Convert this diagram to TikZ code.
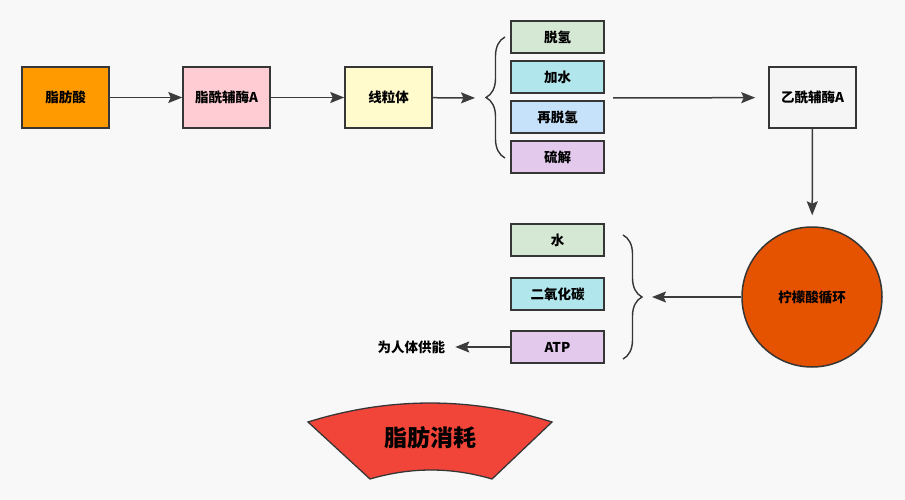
\documentclass[tikz,border=0pt]{standalone}
\usepackage{fontspec}
\setmainfont{Noto Sans CJK SC}
\usepackage{xcolor}
\usetikzlibrary{arrows.meta,positioning,decorations.pathreplacing}

\definecolor{bgcol}{HTML}{F8F8F8}
\definecolor{edgecol}{HTML}{363636}
\definecolor{arrowcol}{HTML}{3C3C3C}
\definecolor{orangefill}{HTML}{FF9A00}
\definecolor{pinkfill}{HTML}{FFCCD3}
\definecolor{yellowfill}{HTML}{FFFBCC}
\definecolor{greenfill}{HTML}{D5E8D4}
\definecolor{cyanfill}{HTML}{B0E6EC}
\definecolor{bluefill}{HTML}{C6E2FA}
\definecolor{purplefill}{HTML}{E3C9EC}
\definecolor{greyfill}{HTML}{F5F5F5}
\definecolor{tcafill}{HTML}{E65300}
\definecolor{fanfill}{HTML}{F2453A}

\begin{document}
\begin{tikzpicture}[x=1pt,y=-1pt,
  node distance=8pt and 74pt,
  component/.style={draw=edgecol,rectangle,line width=1.5pt,minimum width=87pt,minimum height=61pt,font=\fontsize{13.5}{16}\selectfont\bfseries,align=center,inner sep=2pt},
  stepbox/.style={component,minimum width=93pt,minimum height=32pt},
  arr/.style={-{Stealth[length=14pt,width=11pt,inset=2.5pt]},line width=1.5pt,draw=arrowcol},
  bracket/.style={decorate,decoration={brace,amplitude=19pt},line width=1.4pt,draw=edgecol},
  label/.style={font=\fontsize{13.5}{16}\selectfont\bfseries,inner sep=3pt}
]

% Background
\fill[bgcol] (0,0) rectangle (905,500);
\useasboundingbox (0,0) rectangle (905,500);

% Top row
\node[component,fill=orangefill] (fattyacid) at (65.5,97.5) {脂肪酸};
\node[component,fill=pinkfill,right=72.5pt of fattyacid] (acylcoa) {脂酰辅酶A};
\node[component,fill=yellowfill,right=73.5pt of acylcoa] (mito) {线粒体};

% Beta oxidation steps
\node[stepbox,fill=greenfill] (dehydro) at (557.5,37) {脱氢};
\node[stepbox,fill=cyanfill,below=6.5pt of dehydro] (hydration) {加水};
\node[stepbox,fill=bluefill,below=6.5pt of hydration] (redehydro) {再脱氢};
\node[stepbox,fill=purplefill,below=6.5pt of redehydro] (thiolysis) {硫解};
\draw[bracket] (505,158) -- (505,37);
\coordinate (steptip) at (486,98);
\coordinate (stepout) at (613,98);

\node[component,fill=greyfill] (acetylcoa) at (812.5,97.5) {乙酰辅酶A};

% Citric acid cycle
\node[draw=edgecol,circle,line width=1.5pt,fill=tcafill,minimum size=140pt,font=\fontsize{13.5}{16}\selectfont\bfseries] (tca) at (812,297) {柠檬酸循环};

% Products
\node[stepbox,fill=greenfill] (water) at (557.5,240) {水};
\node[stepbox,fill=cyanfill,below=20.5pt of water] (co2) {二氧化碳};
\node[stepbox,fill=purplefill,below=19.5pt of co2] (atp) {ATP};
\draw[bracket] (623,235) -- (623,359);
\coordinate (prodtip) at (642,297);
\node[label,left=62pt of atp] (supply) {为人体供能};

% Arrows
\draw[arr] (fattyacid) -- (acylcoa);
\draw[arr] (acylcoa) -- (mito);
\draw[arr,shorten >=11pt] (mito) -- (steptip);
\draw[arr,shorten >=13pt] (stepout) -- (acetylcoa);
\draw[arr,shorten >=11pt] (acetylcoa) -- (tca);
\draw[arr,shorten >=10pt] (tca) -- (prodtip);
\draw[arr,shorten >=7pt] (atp) -- (supply);

% Fat consumption banner
\draw[draw=edgecol,line width=1.3pt,fill=fanfill] (308,422) .. controls (389,396.7) and (471,396.7) .. (552,422) -- (492,479) .. controls (451,467) and (411,467) .. (370,479) -- cycle;
\node[font=\fontsize{23}{26}\selectfont\bfseries] (title) at (430,438) {脂肪消耗};

\end{tikzpicture}
\end{document}
